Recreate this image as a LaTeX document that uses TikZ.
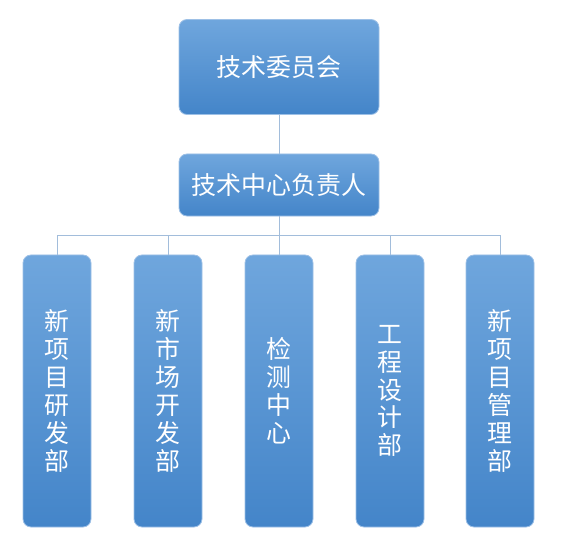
\documentclass[tikz,border=0pt]{standalone}
\usepackage{fontspec}
\usepackage{xcolor}
\usetikzlibrary{positioning}
\newfontfamily\cjk{Noto Sans CJK SC}

\definecolor{boxtop}{HTML}{6FA6DD}
\definecolor{boxbot}{HTML}{4485C9}
\definecolor{boxrim}{HTML}{9DC0E6}
\definecolor{linkcol}{HTML}{A2BDDB}

\tikzset{
  orgbox/.style={rounded corners=8bp, draw=boxrim, line width=0.8bp,
    top color=boxtop, bottom color=boxbot, text=white, inner sep=0pt,
    font=\cjk\fontsize{25}{28}\selectfont},
  headbox/.style={orgbox, minimum width=200bp},
  deptbox/.style={orgbox, minimum width=68bp, minimum height=272bp,
    align=center, text width=26bp},
  link/.style={draw=linkcol, line width=1bp}
}

\begin{document}
\begin{tikzpicture}[x=1bp,y=-1bp]
  \useasboundingbox (0,0) rectangle (566,546);

  % ---------- top levels ----------
  \node[headbox, minimum height=95bp] (board) at (279,67) {技术委员会};
  \node[headbox, minimum height=62bp] (chief) at (279,185) {技术中心负责人};

  % ---------- departments ----------
  \node[deptbox] (dept1) at (57,391) {新\\项\\目\\研\\发\\部};
  \node[deptbox] (dept2) at (168,391) {新\\市\\场\\开\\发\\部};
  \node[deptbox] (dept3) at (279,391) {检\\测\\中\\心};
  \node[deptbox] (dept4) at (390,391) {工\\程\\设\\计\\部};
  \node[deptbox] (dept5) at (500,391) {新\\项\\目\\管\\理\\部};

  % ---------- links ----------
  \coordinate (bus) at (279,235);
  \draw[link] (board) -- (chief);
  \draw[link] (chief) -- (bus);
  \foreach \d in {dept1,dept2,dept3,dept4,dept5} {
    \draw[link] (\d.north) |- (bus);
  }
\end{tikzpicture}
\end{document}
